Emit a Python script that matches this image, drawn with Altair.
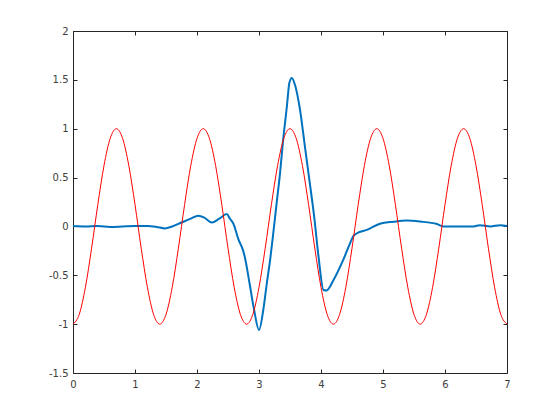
import altair as alt
import pandas as pd

# Red curve samples (x step 0.1)
red_x = [0.0, 0.1, 0.2, 0.3, 0.4, 0.5, 0.6, 0.7, 0.8, 0.9, 1.0, 1.1, 1.2, 1.3,
         1.4, 1.5, 1.6, 1.7, 1.8, 1.9, 2.0, 2.1, 2.2, 2.3, 2.4, 2.5, 2.6, 2.7,
         2.8, 2.9, 3.0, 3.1, 3.2, 3.3, 3.4, 3.5, 3.6, 3.7, 3.8, 3.9, 4.0, 4.1,
         4.2, 4.3, 4.4, 4.5, 4.6, 4.7, 4.8, 4.9, 5.0, 5.1, 5.2, 5.3, 5.4, 5.5,
         5.6, 5.7, 5.8, 5.9, 6.0, 6.1, 6.2, 6.3, 6.4, 6.5, 6.6, 6.7, 6.8, 6.9,
         7.0]
red_y = [-1.0, -0.901, -0.623, -0.223, 0.223, 0.623, 0.901, 1.0, 0.901, 0.623, 0.223, -0.223, -0.623, -0.901,
         -1.0, -0.901, -0.623, -0.223, 0.223, 0.623, 0.901, 1.0, 0.901, 0.623, 0.223, -0.223, -0.623, -0.901,
         -1.0, -0.901, -0.623, -0.223, 0.223, 0.623, 0.901, 1.0, 0.901, 0.623, 0.223, -0.223, -0.623, -0.901,
         -1.0, -0.901, -0.623, -0.223, 0.223, 0.623, 0.901, 1.0, 0.901, 0.623, 0.223, -0.223, -0.623, -0.901,
         -1.0, -0.901, -0.623, -0.223, 0.223, 0.623, 0.901, 1.0, 0.901, 0.623, 0.223, -0.223, -0.623, -0.901,
         -1.0]

# Blue curve points
blue_x = [0.0, 0.2, 0.4, 0.6, 0.8, 1.0, 1.2, 1.35, 1.48, 1.6, 1.75, 1.9, 2.02, 2.12,
          2.24, 2.36, 2.48, 2.53, 2.585, 2.67, 2.74, 2.77, 2.855, 2.92, 3.0, 3.07,
          3.12, 3.18, 3.23, 3.285, 3.34, 3.39, 3.45, 3.49, 3.53, 3.58, 3.66, 3.74,
          3.82, 3.89, 3.96, 4.04, 4.09, 4.2, 4.36, 4.47, 4.52, 4.58, 4.74, 4.95,
          5.17, 5.38, 5.6, 5.87, 5.97, 6.2, 6.46, 6.56, 6.73, 6.89, 7.0]
blue_y = [0.005, 0.0, 0.005, -0.005, 0.0, 0.005, 0.005, -0.005, -0.02, 0.0, 0.04, 0.08, 0.11, 0.09,
          0.04, 0.08, 0.127, 0.08, 0.03, -0.136, -0.24, -0.31, -0.61, -0.85, -1.06, -0.85,
          -0.61, -0.34, -0.07, 0.24, 0.55, 0.89, 1.23, 1.47, 1.52, 1.45, 1.20, 0.82,
          0.44, 0.10, -0.31, -0.65, -0.655, -0.55, -0.34, -0.17, -0.10, -0.07, -0.035, 0.028,
          0.048, 0.06, 0.05, 0.025, 0.0, 0.0, 0.0, 0.013, 0.0, 0.013, 0.005]

x_ticks = [0, 1, 2, 3, 4, 5, 6, 7]
y_ticks = [-1.5, -1, -0.5, 0, 0.5, 1, 1.5, 2]

red_df = pd.DataFrame({"x": red_x, "y": red_y})
blue_df = pd.DataFrame({"x": blue_x, "y": blue_y})

xscale = alt.Scale(domain=[0, 7], nice=False, zero=False)
yscale = alt.Scale(domain=[-1.5, 2], nice=False, zero=False)

base_axis = dict(tickSize=4, offset=-4, domain=False, grid=False, tickColor="#262626",
                 tickWidth=1, labelColor="#404040", labelFont="DejaVu Sans",
                 labelFontSize=10, title=None, labelFlush=False)

blue = alt.Chart(blue_df).mark_line(color="#0072BD", strokeWidth=2, interpolate="monotone").encode(
    x=alt.X("x:Q", scale=xscale, axis=alt.Axis(orient="top", values=x_ticks, labels=False, **base_axis)),
    y=alt.Y("y:Q", scale=yscale, axis=alt.Axis(orient="right", values=y_ticks, labels=False, **base_axis)),
)

red = alt.Chart(red_df).mark_line(color="#FF0000", strokeWidth=1, interpolate="monotone").encode(
    x=alt.X("x:Q", scale=xscale, axis=alt.Axis(orient="bottom", values=x_ticks, labelPadding=6,
                                               labelExpr="'' + datum.value", **base_axis)),
    y=alt.Y("y:Q", scale=yscale, axis=alt.Axis(orient="left", values=y_ticks, labelPadding=5,
                                               labelExpr="'' + datum.value", **base_axis)),
)

chart = alt.layer(blue, red).resolve_axis(x="independent", y="independent").properties(
    width=434, height=342,
    autosize=alt.AutoSizeParams(type="none"),
    padding={"left": 65, "top": 23, "right": 45, "bottom": 35},
    background="white",
).configure_view(stroke="#262626", strokeWidth=1)

chart.save("out.html", embed_options={"renderer": "svg", "actions": False})
